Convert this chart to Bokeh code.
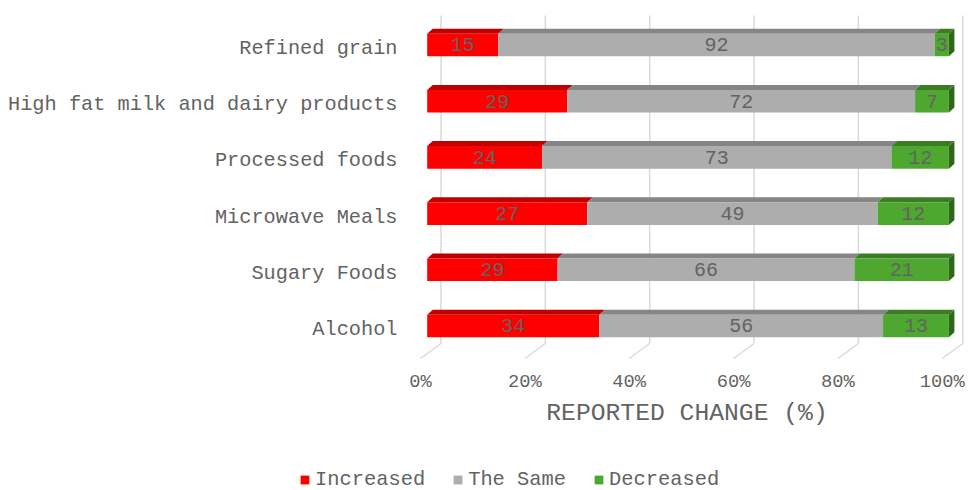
from bokeh.plotting import figure
from bokeh.layouts import column, row
from bokeh.models import (FixedTicker, PrintfTickFormatter, Legend, LegendItem)
from bokeh.core.properties import value
from bokeh.embed import file_html
from bokeh.resources import INLINE

categories = ["Alcohol", "Sugary Foods", "Microwave Meals", "Processed foods",
              "High fat milk and dairy products", "Refined grain"]
increased = [34, 29, 27, 24, 29, 15]
same = [56, 66, 49, 73, 72, 92]
decreased = [13, 21, 12, 12, 7, 3]
series_names = ["Increased", "The Same", "Decreased"]
x_ticks = [0, 20, 40, 60, 80, 100]

FONT = "Liberation Mono"
TXT = "#636363"
GRID = "#D9D9D9"
front_cols = ["#FF0000", "#ADADAD", "#4EA72E"]
top_cols = ["#C00000", "#858585", "#3B7D23"]
side_col = "#2F661C"

PX_X = 563 / 107.915   # px per x unit
PX_Y = 56.2            # px per y unit

p = figure(width=973, height=455, output_backend="svg", toolbar_location=None,
           x_range=(-2.875, 105.04), y_range=(-0.6406, 5.854),
           min_border_left=405, min_border_right=5, min_border_top=0,
           min_border_bottom=90)
p.outline_line_color = None
p.xgrid.visible = False
p.ygrid.visible = False

# back wall / floor lines
back_dx = 20.5 / PX_X
wall_top = (329 - 15) / PX_Y
wall_bot = (329 - 343) / PX_Y
floor_front = (329 - 358) / PX_Y
gx = [t + back_dx for t in x_ticks]
p.segment(x0=gx, y0=[wall_bot] * len(gx), x1=gx, y1=[wall_top] * len(gx),
          line_color=GRID, line_width=1.5)
p.segment(x0=gx, y0=[wall_bot] * len(gx), x1=x_ticks, y1=[floor_front] * len(gx),
          line_color=GRID, line_width=1.5)

# bars
off_x = 6.7 / PX_X
cy_off = 3.5 / PX_Y
half_h = 11.3 / PX_Y
dx = 5.5 / PX_X
dy = 5.0 / PX_Y

n = len(categories)
vals = [increased, same, decreased]
totals = [increased[i] + same[i] + decreased[i] for i in range(n)]

fronts = []
label_x, label_y, label_t = [], [], []
for s in range(3):
    fx, fy, tx, ty = [], [], [], []
    for i in range(n):
        start = sum(vals[k][i] for k in range(s)) / totals[i] * 100
        end = start + vals[s][i] / totals[i] * 100
        x0, x1 = start + off_x, end + off_x
        yc = i + cy_off
        yb, yt = yc - half_h, yc + half_h
        fx.append([x0, x1, x1, x0])
        fy.append([yb, yb, yt, yt])
        tx.append([x0, x1, x1 + dx, x0 + dx])
        ty.append([yt, yt, yt + dy, yt + dy])
        label_x.append((x0 + x1) / 2)
        label_y.append(yc)
        label_t.append(str(vals[s][i]))
    p.patches(xs=tx, ys=ty, fill_color=top_cols[s], line_color=None)
    fronts.append((fx, fy))

sx, sy = [], []
for i in range(n):
    x1 = 100 + off_x
    yc = i + cy_off
    yb, yt = yc - half_h, yc + half_h
    sx.append([x1, x1 + dx, x1 + dx, x1])
    sy.append([yt, yt + dy, yb + dy, yb])
p.patches(xs=sx, ys=sy, fill_color=side_col, line_color=None)

for s in range(3):
    fx, fy = fronts[s]
    p.patches(xs=fx, ys=fy, fill_color=front_cols[s], line_color=None)

p.text(x=label_x, y=label_y, text=label_t, text_align="center",
       text_baseline="middle", text_font=value(FONT), text_font_size="20px",
       text_color=TXT)

xa = p.xaxis[0]
xa.ticker = FixedTicker(ticks=x_ticks)
xa.formatter = PrintfTickFormatter(format="%d%%")
xa.axis_line_color = None
xa.major_tick_line_color = None
xa.minor_tick_line_color = None
xa.major_label_text_font = FONT
xa.major_label_text_font_size = "18.75px"
xa.major_label_text_color = TXT
xa.major_label_standoff = -1
xa.axis_label = "REPORTED CHANGE (%)"
xa.axis_label_text_font = FONT
xa.axis_label_text_font_size = "24.7px"
xa.axis_label_text_font_style = "normal"
xa.axis_label_text_color = TXT
xa.axis_label_standoff = 3

ya = p.yaxis[0]
ya.ticker = FixedTicker(ticks=list(range(n)))
ya.major_label_overrides = {i: categories[i] for i in range(n)}
ya.axis_line_color = None
ya.major_tick_line_color = None
ya.minor_tick_line_color = None
ya.major_label_text_font = FONT
ya.major_label_text_font_size = "20.3px"
ya.major_label_text_color = TXT
ya.major_label_standoff = 2

# legend strip
p2 = figure(width=973, height=35, output_backend="svg", toolbar_location=None,
            x_range=(0, 1), y_range=(0, 1), x_axis_location=None,
            y_axis_location=None, min_border_left=299, min_border_right=0,
            min_border_top=13, min_border_bottom=0)
p2.outline_line_color = None
p2.xgrid.visible = False
p2.ygrid.visible = False
lrends = [p2.patches(xs=[[]], ys=[[]], fill_color=front_cols[s], line_color=None)
          for s in range(3)]
legend = Legend(items=[LegendItem(label=series_names[s], renderers=[lrends[s]])
                       for s in range(3)],
                orientation="horizontal", location="top_left",
                label_text_font=FONT, label_text_font_size="20.4px",
                label_text_color=TXT, glyph_width=11, glyph_height=11,
                label_standoff=5, spacing=27, border_line_color=None,
                background_fill_alpha=0, padding=0, margin=0)
p2.add_layout(legend, "center")

open("out.html", "w").write(file_html(column(p, row(p2), spacing=0), INLINE))
